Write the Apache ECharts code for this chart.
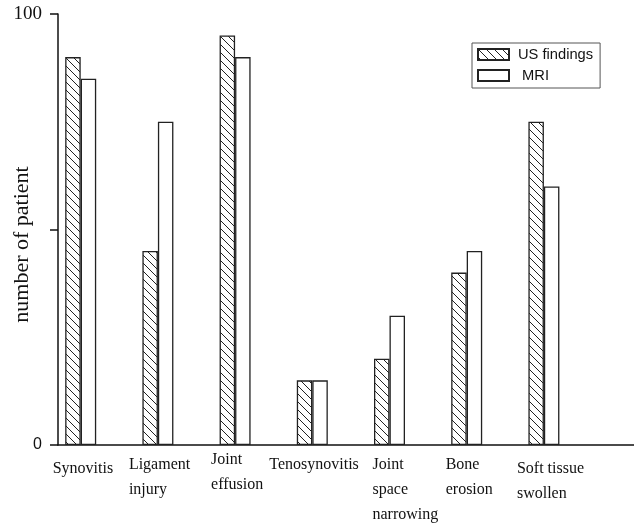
<!DOCTYPE html>
<html><head><meta charset="utf-8">
<script src="https://cdn.jsdelivr.net/npm/echarts@6/dist/echarts.min.js"></script>
<style>html,body{margin:0;padding:0;background:#fff}#c{width:634px;height:524px}</style>
</head><body><div id="c"></div>
<script>
// ---- data ----
const categories = ['Synovitis', 'Ligament\ninjury', 'Joint\neffusion', 'Tenosynovitis', 'Joint\nspace\nnarrowing', 'Bone\nerosion', 'Soft tissue\nswollen'];
const usFindings = [90, 45, 95, 15, 20, 40, 75];
const mri = [85, 75, 90, 15, 30, 45, 60];
const yTickLabels = ['0', '100'];
const seriesNames = ['US findings', 'MRI'];
const yName = 'number of patient';

// ---- layout (not data) ----
const labelBoxW = [56, 58, 48, 86, 34, 42, 54];
const labelVAlign = ['bottom', 'middle', 'top', 'middle', 'middle', 'middle', 'bottom'];

// hatch pattern
const hc = document.createElement('canvas');
hc.width = 8; hc.height = 8;
const g = hc.getContext('2d');
g.fillStyle = '#fff'; g.fillRect(0, 0, 8, 8);
g.strokeStyle = '#222'; g.lineWidth = 1;
[-8, 0, 8].forEach(k => { g.beginPath(); g.moveTo(k - 1, -1); g.lineTo(k + 9, 9); g.stroke(); });

const rich = {};
categories.forEach((c, i) => {
  rich['c' + i] = { width: labelBoxW[i], align: 'left', verticalAlign: labelVAlign[i], fontFamily: 'Liberation Serif', fontSize: 16, color: '#111', lineHeight: 25 };
});

const chart = echarts.init(document.getElementById('c'), null, { renderer: 'canvas' });
chart.setOption({
  animation: false,
  backgroundColor: '#fff',
  grid: [
    { left: 42.1, right: 51.5, top: 14, bottom: 79, outerBoundsMode: 'none', containLabel: false },
    { left: 58, right: 0, top: 14, bottom: 79, outerBoundsMode: 'none', containLabel: false }
  ],
  legend: {
    left: 472, top: 43, orient: 'vertical',
    padding: [4, 7, 5, 5], itemWidth: 31, itemHeight: 11, itemGap: 6,
    borderColor: '#555', borderWidth: 1,
    icon: 'rect',
    formatter: n => n === seriesNames[1] ? ' ' + n : n,
    textStyle: { fontFamily: 'Liberation Sans', fontSize: 14.7, color: '#111', padding: [0, 0, 0, 4] },
    data: seriesNames
  },
  xAxis: [
    {
      type: 'category', gridIndex: 0, data: categories,
      axisLine: { show: false }, axisTick: { show: false },
      axisLabel: {
        interval: 0, margin: 7, align: 'center',
        formatter: (v, i) => v.split('\n').map(s => '{c' + i + '|' + s + '}').join('\n'),
        rich: rich
      }
    },
    {
      type: 'value', gridIndex: 1, min: 0, max: 1,
      axisLine: { show: true, onZero: false, lineStyle: { color: '#111', width: 1.5 } },
      axisTick: { show: false }, axisLabel: { show: false }, splitLine: { show: false }
    }
  ],
  yAxis: [
    { type: 'value', gridIndex: 0, min: 0, max: 100, show: false },
    {
      type: 'value', gridIndex: 1, min: 0, max: 100, interval: 50,
      name: yName, nameLocation: 'middle', nameGap: 25, nameRotate: 90, nameMoveOverlap: false,
      nameTextStyle: { fontFamily: 'Liberation Serif', fontSize: 22, color: '#111', padding: [0, 30, 0, 0] },
      axisLine: { show: true, onZero: false, lineStyle: { color: '#111', width: 1.5 } },
      axisTick: { show: true, inside: false, length: 8, lineStyle: { color: '#111', width: 1.5 } },
      splitLine: { show: false },
      axisLabel: {
        margin: 16,
        formatter: v => v === 100 ? '{s|' + yTickLabels[1] + '}' : (v === 0 ? '{a|' + yTickLabels[0] + '}' : ''),
        rich: {
          s: { fontFamily: 'Liberation Serif', fontSize: 19, color: '#111' },
          a: { fontFamily: 'Liberation Sans', fontSize: 16, color: '#111' }
        }
      }
    }
  ],
  series: [
    {
      name: seriesNames[0], type: 'bar', xAxisIndex: 0, yAxisIndex: 0, data: usFindings,
      barWidth: 15.5, barGap: '0%',
      itemStyle: { color: { image: hc, repeat: 'repeat' }, borderColor: '#222', borderWidth: 1.3 }
    },
    {
      name: seriesNames[1], type: 'bar', xAxisIndex: 0, yAxisIndex: 0, data: mri,
      barWidth: 15.5, barGap: '0%',
      itemStyle: { color: '#fff', borderColor: '#222', borderWidth: 1.3 }
    }
  ]
});
</script></body></html>
